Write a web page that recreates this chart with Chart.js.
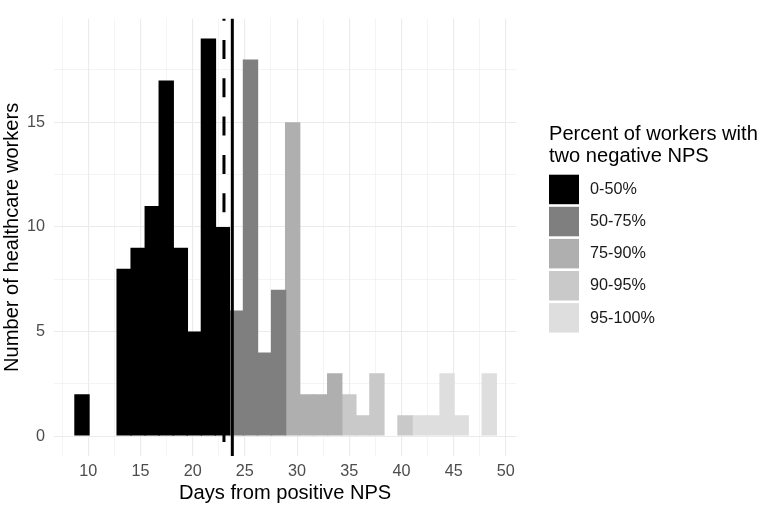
<!DOCTYPE html>
<html>
<head>
<meta charset="utf-8">
<script src="https://cdn.jsdelivr.net/npm/chart.js@4.4.1/dist/chart.umd.min.js"></script>
<style>
  html, body { margin: 0; padding: 0; background: #ffffff; }
  #wrap { width: 760px; height: 507px; position: relative; }
</style>
</head>
<body>
<div id="wrap"><canvas id="histChart"></canvas></div>
<script>
// histogram bins (centre of each bin, in days)
const binCenters = [9.40, 10.75, 12.09, 13.44, 14.78, 16.13, 17.47, 18.82, 20.16, 21.51,
  22.85, 24.20, 25.54, 26.89, 28.23, 29.58, 30.92, 32.27, 33.61, 34.96,
  36.30, 37.65, 38.99, 40.34, 41.68, 43.03, 44.37, 45.72, 47.06, 48.41];
const workerCounts = [2, 0, 0, 8, 9, 11, 17, 9, 5, 19,
  10, 6, 18, 4, 7, 15, 2, 2, 3, 2,
  1, 3, 0, 1, 1, 1, 3, 1, 0, 3];
// which percent group each bin falls in (index into groupLabels)
const binGroup = [0, 0, 0, 0, 0, 0, 0, 0, 0, 0,
  0, 1, 1, 1, 1, 2, 2, 2, 2, 3,
  3, 3, 3, 3, 4, 4, 4, 4, 4, 4];
const groupLabels = ['0-50%', '50-75%', '75-90%', '90-95%', '95-100%'];
const groupColors = ['#000000', '#7f7f7f', '#afafaf', '#c9c9c9', '#dedede'];
const legendTitle = ['Percent of workers with', 'two negative NPS'];
const dashedLineDay = 23.0;
const solidLineDay = 23.8;

const FONT = "'Liberation Sans', Arial, Helvetica, sans-serif";
const TITLE_SIZE = 20.1;
const LABEL_SIZE = 16.2;

const datasets = groupLabels.map(function (label, g) {
  const pts = [];
  binCenters.forEach(function (x, i) {
    if (binGroup[i] === g) pts.push({ x: x, y: workerCounts[i] });
  });
  return {
    label: label,
    data: pts,
    backgroundColor: groupColors[g],
    borderWidth: 0,
    inflateAmount: 0,
    barPercentage: 1.1,   // slight overlap so no seams between bars
    categoryPercentage: 1,
    grouped: false
  };
});

const gridWidth = function (ctx) {
  if (!ctx.tick) return 0;
  return Math.abs(ctx.tick.value % 5) < 1e-6 ? 1.1 : 0.55;
};
const majorOnly = function (v) {
  return Math.abs(v % 5) < 1e-6 ? String(v) : '';
};

// mean / median marker lines
const markerLines = {
  id: 'markerLines',
  afterDatasetsDraw(chart) {
    const { ctx, chartArea, scales } = chart;
    ctx.save();
    ctx.strokeStyle = '#000000';
    ctx.lineWidth = 3;
    let px = scales.x.getPixelForValue(dashedLineDay);
    ctx.setLineDash([19, 19.3]);
    ctx.lineDashOffset = 17;
    ctx.beginPath();
    ctx.moveTo(px, chartArea.top);
    ctx.lineTo(px, chartArea.bottom);
    ctx.stroke();
    px = scales.x.getPixelForValue(solidLineDay);
    ctx.setLineDash([]);
    ctx.beginPath();
    ctx.moveTo(px, chartArea.top);
    ctx.lineTo(px, chartArea.bottom);
    ctx.stroke();
    ctx.restore();
  }
};

// ggplot-style legend on the right
const sideLegend = {
  id: 'sideLegend',
  afterDraw(chart) {
    const ctx = chart.ctx;
    const x0 = 549;
    ctx.save();
    ctx.fillStyle = '#000000';
    ctx.font = TITLE_SIZE + 'px ' + FONT;
    ctx.textBaseline = 'alphabetic';
    ctx.textAlign = 'left';
    ctx.fillText(legendTitle[0], x0, 140);
    ctx.fillText(legendTitle[1], x0, 161.7);
    ctx.font = LABEL_SIZE + 'px ' + FONT;
    ctx.textBaseline = 'middle';
    chart.data.datasets.forEach(function (ds, k) {
      const y = 174.7 + k * 32.1;
      ctx.fillStyle = ds.backgroundColor;
      ctx.fillRect(x0, y, 30, 29.5);
      ctx.fillStyle = '#1a1a1a';
      ctx.fillText(ds.label, 590, y + 15);
    });
    ctx.restore();
  }
};

new Chart(document.getElementById('histChart'), {
  type: 'bar',
  data: { datasets: datasets },
  options: {
    responsive: true,
    maintainAspectRatio: false,
    animation: false,
    layout: { padding: { left: 0, right: 243.7, top: 0, bottom: 0 } },
    plugins: {
      legend: { display: false },
      tooltip: { enabled: false }
    },
    scales: {
      x: {
        type: 'linear',
        offset: false,
        min: 6.72,
        max: 51.0,
        afterFit: function (s) { s.height = 51; s.paddingLeft = 0; s.paddingRight = 0; },
        border: { display: false },
        grid: { color: '#ebebeb', lineWidth: gridWidth, drawTicks: false, offset: false },
        ticks: {
          stepSize: 2.5,
          includeBounds: false,
          autoSkip: false,
          maxRotation: 0,
          padding: 6,
          color: '#4d4d4d',
          font: { family: FONT, size: LABEL_SIZE },
          callback: majorOnly
        },
        title: {
          display: true,
          text: 'Days from positive NPS',
          color: '#000000',
          font: { family: FONT, size: TITLE_SIZE },
          padding: { top: 0, bottom: 1.2 }
        }
      },
      y: {
        type: 'linear',
        min: -0.95,
        max: 19.95,
        afterFit: function (s) { s.width = 54; },
        border: { display: false },
        grid: { color: '#ebebeb', lineWidth: gridWidth, drawTicks: false },
        ticks: {
          stepSize: 2.5,
          includeBounds: false,
          autoSkip: false,
          padding: 9,
          color: '#4d4d4d',
          font: { family: FONT, size: LABEL_SIZE },
          callback: majorOnly
        },
        title: {
          display: true,
          text: 'Number of healthcare workers',
          color: '#000000',
          font: { family: FONT, size: TITLE_SIZE },
          padding: { top: 0, bottom: 0 }
        }
      }
    }
  },
  plugins: [markerLines, sideLegend]
});
</script>
</body>
</html>
